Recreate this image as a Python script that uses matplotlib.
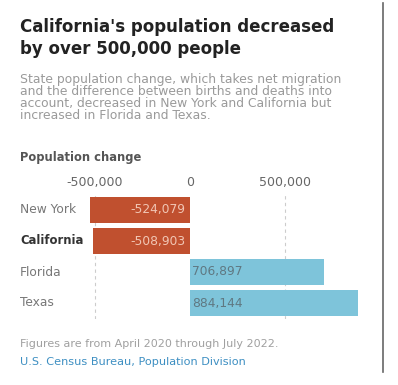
import matplotlib.pyplot as plt
import matplotlib.lines as mlines

states = ["New York", "California", "Florida", "Texas"]
change = [-524079, -508903, 706897, 884144]
tick_vals = [-500000, 0, 500000]
tick_labels = ["-500,000", "0", "500,000"]

red = "#c0502f"
blue = "#7ec4da"
W, H = 398, 385

fig = plt.figure(figsize=(W / 100, H / 100), dpi=100)
plt.rcParams['font.family'] = ['DejaVu Sans']

# pixel helpers
def fx(px):
    return px / W

def fy(py):
    return 1 - py / H

# axes: zero at x=190, 0.00019 px per person; rows 31 px apart
left_px, right_px = 88, 362
x0, scale = 190, 0.00019
ax = fig.add_axes([fx(left_px), fy(318.5), fx(right_px - left_px), (318.5 - 194.5) / H])
ax.set_xlim((left_px - x0) / scale, (right_px - x0) / scale)
ax.set_ylim(3.5, -0.5)

colors = [red if v < 0 else blue for v in change]
ax.barh(range(len(states)), change, height=0.86, color=colors, zorder=2)

for i, v in enumerate(change):
    if v < 0:
        ax.text(-25000, i, f"-{abs(v):,}", ha="right", va="center",
                color="#f1c6b4", fontsize=8.8, zorder=3)
    else:
        ax.text(12000, i, f"{v:,}", ha="left", va="center",
                color="#5f7882", fontsize=8.8, zorder=3)

for t in tick_vals:
    if t != 0:
        ax.axvline(t, color="#cccccc", lw=0.8, ls=(0, (3, 3)), zorder=1)

ax.set_xticks(tick_vals)
ax.set_xticklabels(tick_labels)
ax.xaxis.tick_top()
ax.tick_params(axis="x", length=0, labelsize=9, labelcolor="#666666", pad=4)
ax.set_yticks([])
for s in ax.spines.values():
    s.set_visible(False)

# state labels
for i, name in enumerate(states):
    bold = name == "California"
    ax.text(fx(20), fy(210 + 31 * i), name, transform=fig.transFigure,
            ha="left", va="center", fontsize=8.4 if bold else 8.8,
            color="#333333" if bold else "#777777",
            fontweight="bold" if bold else "normal")

# titles
fig.text(fx(20), fy(27), "California's population decreased", fontsize=12,
         fontweight="bold", color="#222222", va="center")
fig.text(fx(20), fy(49), "by over 500,000 people", fontsize=12,
         fontweight="bold", color="#222222", va="center")
subtitle = ["State population change, which takes net migration",
            "and the difference between births and deaths into",
            "account, decreased in New York and California but",
            "increased in Florida and Texas."]
for k, line in enumerate(subtitle):
    fig.text(fx(20), fy(79 + 12.2 * k), line, fontsize=8.9, color="#9a9a9a",
             va="center")
fig.text(fx(20), fy(157), "Population change", fontsize=8.3,
         fontweight="bold", color="#555555", va="center")

fig.text(fx(20), fy(344), "Figures are from April 2020 through July 2022.",
         fontsize=8, color="#a0a0a0", va="center")
fig.text(fx(20), fy(362), "U.S. Census Bureau, Population Division",
         fontsize=8.1, color="#3d8fc2", va="center")

# right border
fig.add_artist(mlines.Line2D([fx(383), fx(383)], [fy(3), fy(372)],
                             color="#666666", lw=1.2))

fig.savefig("out.png", dpi=100, facecolor="white")
